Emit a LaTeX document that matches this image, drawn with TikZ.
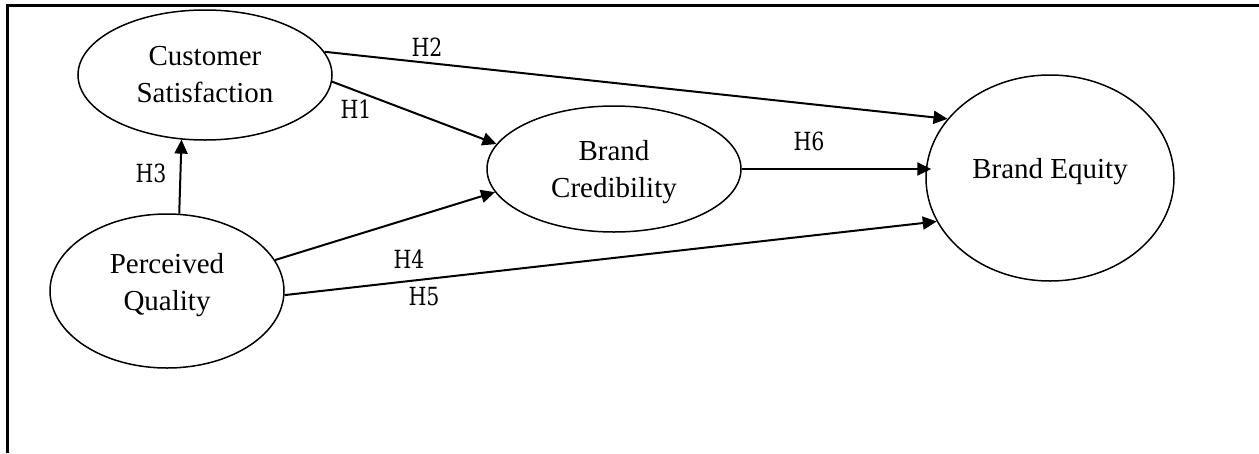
\documentclass[tikz,border=0pt]{standalone}
\usepackage{fontspec}
\setmainfont{Liberation Serif}
\newfontfamily\hfont[FakeStretch=0.82]{DejaVu Serif}
\usetikzlibrary{shapes.geometric,arrows.meta}
\begin{document}
\begin{tikzpicture}[x=1pt,y=-1pt,
  var/.style={draw,ellipse,line width=1.5pt,inner sep=0pt,align=center,
    font=\fontsize{29}{37}\selectfont},
  arr/.style={line width=2pt,-{Triangle[length=14pt,width=13pt]}},
  hlab/.style={font=\hfont\fontsize{25}{28}\selectfont,inner sep=0pt}]
\useasboundingbox (0,0) rectangle (1259,453);
\draw[line width=3pt] (7.5,453) -- (7.5,5) -- (1259,5);

\node[var,minimum width=254pt,minimum height=130pt] (cs) at (205,75) {Customer\\Satisfaction};
\node[var,minimum width=234pt,minimum height=154pt,text height=57pt,text depth=19pt] (pq) at (167,291) {Perceived\\Quality};
\node[var,minimum width=254pt,minimum height=126pt,text height=57pt,text depth=0pt] (bc) at (614,169) {Brand\\Credibility};
\node[var,minimum width=248pt,minimum height=206pt,text height=20pt,text depth=20pt] (be) at (1050,178) {Brand Equity};

\draw[arr] (cs.11.3) -- (be.150.3);
\draw[arr] (cs.-3.6) -- (bc.168.8);
\draw[arr] (pq.81.8) -- (cs.-110.6);
\draw[arr] (pq.16.2) -- (bc.191.2);
\draw[arr] (pq.-2) -- (be.201.3);
\draw[arr] (bc.east) -- ([xshift=6pt]bc.east -| be.west);

\node[hlab] (h1) at (356,109) {H1};
\node[hlab] (h2) at (427,47) {H2};
\node[hlab] (h3) at (151,173) {H3};
\node[hlab] (h4) at (409,259) {H4};
\node[hlab] (h5) at (424,297) {H5};
\node[hlab] (h6) at (809,141) {H6};
\end{tikzpicture}
\end{document}
